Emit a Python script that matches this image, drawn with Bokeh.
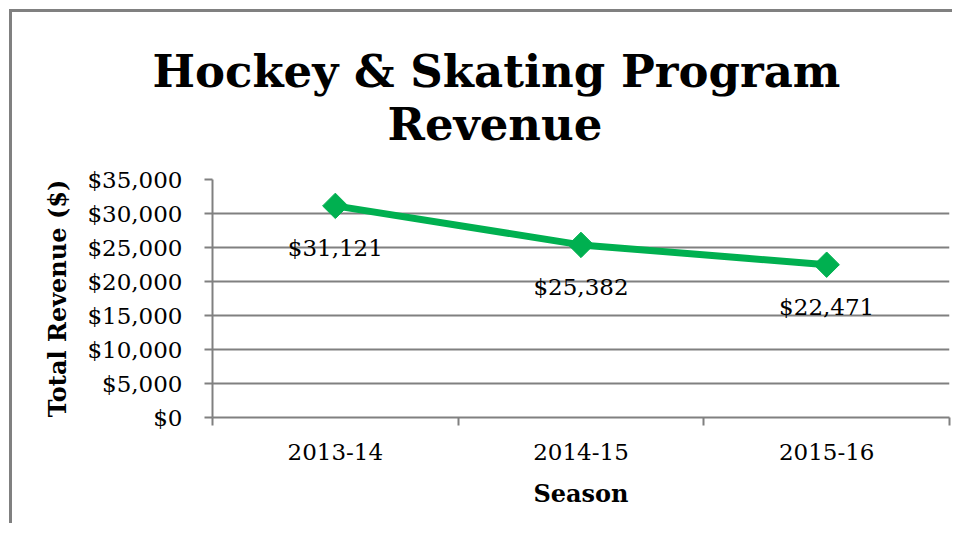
from bokeh.plotting import figure
from bokeh.models import FixedTicker, NumeralTickFormatter, Range1d, ColumnDataSource, Title
from bokeh.core.properties import value
from bokeh.embed import file_html
from bokeh.resources import INLINE

seasons = ["2013-14", "2014-15", "2015-16"]
revenue = [31121, 25382, 22471]
revenue_labels = ["$31,121", "$25,382", "$22,471"]
y_ticks = [0, 5000, 10000, 15000, 20000, 25000, 30000, 35000]
title_lines = ["Hockey & Skating Program", "Revenue"]

FONT = "DejaVu Serif"
GRAY = "#808080"
GREEN = "#00B050"

xs = [i + 0.5 for i in range(len(seasons))]
src = ColumnDataSource(dict(x=xs, y=revenue, lbl=revenue_labels))

p = figure(width=943, height=514, output_backend="svg", toolbar_location=None,
           x_range=Range1d(0, len(seasons)), y_range=Range1d(0, 35000), title=None)
p.min_border_left = 200
p.min_border_top = 167
p.min_border_right = 6
p.min_border_bottom = 109
p.outline_line_color = None
p.background_fill_color = "white"
p.border_fill_color = "white"
p.styles = {"border-left": "3px solid #808080", "border-top": "3px solid #808080",
            "margin-left": "9px", "margin-top": "9px"}

# two-line title: second line centred under the first with non-breaking spaces
title_text = title_lines[0] + "\n" + "\u00a0" * 15 + title_lines[1]
p.add_layout(Title(text=title_text, align="left", offset=-60, text_font=FONT,
                   text_font_size="45px", text_font_style="bold",
                   text_color="black", standoff=58, text_line_height=1.0), "above")

# x axis
p.xaxis.ticker = FixedTicker(ticks=xs, minor_ticks=[0, 1, 2, 3])
p.xaxis.major_label_overrides = {x: s for x, s in zip(xs, seasons)}
p.xaxis.major_tick_out = 0
p.xaxis.major_tick_in = 0
p.xaxis.minor_tick_out = 8
p.xaxis.minor_tick_in = 0
p.xaxis.minor_tick_line_color = GRAY
p.xaxis.minor_tick_line_width = 2
p.xaxis.axis_line_color = GRAY
p.xaxis.axis_line_width = 2
p.xaxis.major_label_text_font = FONT
p.xaxis.major_label_text_font_size = "23px"
p.xaxis.major_label_text_color = "black"
p.xaxis.major_label_standoff = 18
p.xaxis.axis_label = "Season"
p.xaxis.axis_label_text_font = FONT
p.xaxis.axis_label_text_font_size = "24px"
p.xaxis.axis_label_text_font_style = "bold"
p.xaxis.axis_label_text_color = "black"
p.xaxis.axis_label_standoff = 16
p.xgrid.grid_line_color = None

# y axis
p.yaxis.ticker = FixedTicker(ticks=y_ticks, minor_ticks=[])
p.yaxis.formatter = NumeralTickFormatter(format="$0,0")
p.yaxis.major_tick_out = 8
p.yaxis.major_tick_in = 0
p.yaxis.major_tick_line_color = GRAY
p.yaxis.major_tick_line_width = 2
p.yaxis.axis_line_color = GRAY
p.yaxis.axis_line_width = 2
p.yaxis.major_label_text_font = FONT
p.yaxis.major_label_text_font_size = "23px"
p.yaxis.major_label_text_color = "black"
p.yaxis.major_label_standoff = 22
p.yaxis.axis_label = "Total Revenue ($)"
p.yaxis.axis_label_text_font = FONT
p.yaxis.axis_label_text_font_size = "24px"
p.yaxis.axis_label_text_font_style = "bold"
p.yaxis.axis_label_text_color = "black"
p.yaxis.axis_label_standoff = 12
p.ygrid.ticker = FixedTicker(ticks=y_ticks)
p.ygrid.grid_line_color = GRAY
p.ygrid.grid_line_width = 2

p.line("x", "y", source=src, line_color=GREEN, line_width=7)
p.scatter("x", "y", source=src, marker="square", size=18, angle=0.785398,
          fill_color=GREEN, line_color=GREEN)
p.text("x", "y", text="lbl", source=src, text_font=value(FONT), text_font_size="23px",
       text_color="black", text_align="center", text_baseline="middle", y_offset=42)

open("out.html", "w").write(file_html(p, INLINE))
